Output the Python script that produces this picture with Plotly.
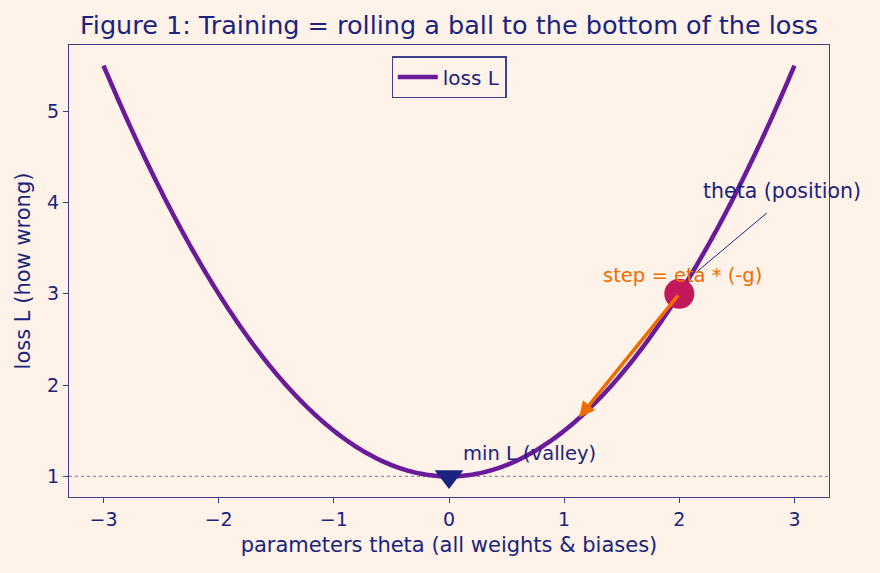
import numpy as np
import plotly.graph_objects as go

theta = np.linspace(-3, 3, 301)
loss = 1 + 0.5 * theta**2

ball_theta = [2.0]
ball_loss = [3.0]
min_theta = [0.0]
min_loss = [1.0]
step_end = (1.13, 1.645)

NAVY = "#1a237e"
PURPLE = "#6a1b9a"
ORANGE = "#ef6c00"
CRIMSON = "#c2185b"
SPINE = "#3f3f8a"
BG = "#fff2e8"
FAM = "DejaVu Sans"

fig = go.Figure()
fig.add_trace(go.Scatter(x=[-3.3, 3.3], y=[1, 1], mode="lines",
                         line=dict(color="#9a8aa8", width=1.2, dash="dot"),
                         showlegend=False, hoverinfo="skip"))
fig.add_trace(go.Scatter(x=theta, y=loss, mode="lines", name="loss L",
                         line=dict(color=PURPLE, width=4.5, simplify=False)))
fig.add_trace(go.Scatter(x=min_theta, y=min_loss, mode="markers",
                         marker=dict(symbol="triangle-down", size=25, color=NAVY),
                         showlegend=False))

fig.add_annotation(x=step_end[0], y=step_end[1], ax=ball_theta[0], ay=ball_loss[0],
                   xref="x", yref="y", axref="x", ayref="y", text="",
                   showarrow=True, arrowhead=2, arrowsize=0.9, arrowwidth=3.5,
                   arrowcolor=ORANGE, standoff=0)
fig.add_trace(go.Scatter(x=ball_theta, y=ball_loss, mode="markers",
                         marker=dict(symbol="circle", size=30, color=CRIMSON),
                         showlegend=False))

fig.add_shape(type="line", x0=2.16, y0=3.25, x1=2.76, y1=3.885,
              xref="x", yref="y", line=dict(color=NAVY, width=1))
fig.add_annotation(x=2.19, y=3.97, text="theta (position)", showarrow=False,
                   xanchor="left", yanchor="bottom", font=dict(family=FAM, color=NAVY, size=20.5))
fig.add_annotation(x=2.03, y=3.2, text="step = eta * (-g)", showarrow=False,
                   xanchor="center", yanchor="middle", font=dict(family=FAM, color=ORANGE, size=19.5))
fig.add_annotation(x=0.1, y=1.1, text="min L (valley)", showarrow=False,
                   xanchor="left", yanchor="bottom", font=dict(family=FAM, color=NAVY, size=19.5))

axis_common = dict(showline=True, mirror=True, linecolor=SPINE, linewidth=1.3,
                   ticks="outside", ticklen=5, tickcolor=SPINE, showgrid=False,
                   zeroline=False, tickfont=dict(family=FAM, color=NAVY, size=19))
fig.update_xaxes(range=[-3.3, 3.3], tickvals=[-3, -2, -1, 0, 1, 2, 3],
                 ticktext=["\u22123", "\u22122", "\u22121", "0", "1", "2", "3"],
                 title=dict(text="parameters theta (all weights & biases)",
                            font=dict(family=FAM, color=NAVY, size=21), standoff=8),
                 **axis_common)
fig.update_yaxes(range=[0.775, 5.725], tickvals=[1, 2, 3, 4, 5],
                 title=dict(text="loss L (how wrong)",
                            font=dict(family=FAM, color=NAVY, size=21), standoff=10),
                 **axis_common)

fig.update_layout(
    width=880, height=573,
    paper_bgcolor=BG, plot_bgcolor=BG,
    font=dict(family=FAM, color=NAVY),
    margin=dict(l=69, r=51, t=45, b=76),
    title=dict(text="Figure 1: Training = rolling a ball to the bottom of the loss",
               xref="paper", x=0.5, xanchor="center", y=0.957, yanchor="middle",
               font=dict(family=FAM, size=25.5, color=NAVY)),
    legend=dict(x=0.5, y=0.975, xanchor="center", yanchor="top",
                bgcolor=BG, bordercolor=SPINE, borderwidth=1.3,
                itemwidth=40,
                font=dict(family=FAM, size=20, color=NAVY)),
    showlegend=True,
)

fig.write_html("out.html")
